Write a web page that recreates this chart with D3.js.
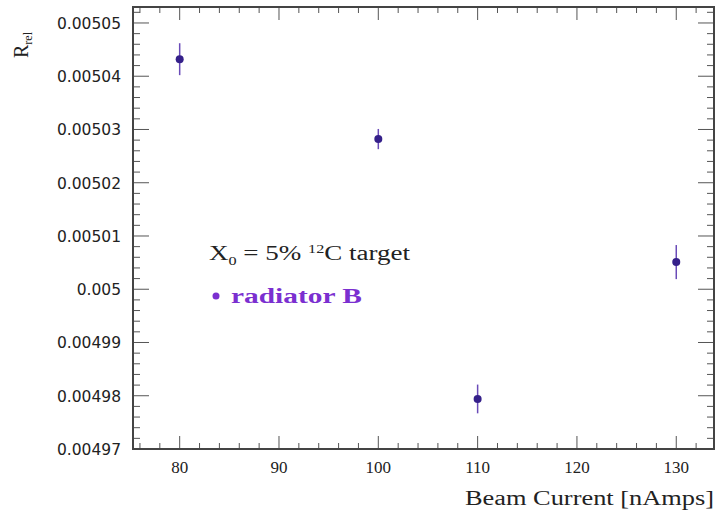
<!DOCTYPE html>
<html>
<head>
<meta charset="utf-8">
<script src="https://cdn.jsdelivr.net/npm/d3@7"></script>
<style>
  body { margin: 0; background: #fff; }
  .frame { fill: none; stroke: #444; stroke-width: 2; }
  .ylab { font-family: "DejaVu Sans", Verdana, sans-serif; font-size: 15.5px; fill: #222; }
  .xlab { font-family: "Liberation Serif", "Times New Roman", serif; font-size: 17px; fill: #222; }
  .title { font-family: "Liberation Serif", "Times New Roman", serif; font-size: 20px; fill: #222; }
</style>
</head>
<body>
<div id="chart"></div>
<script>
// beam current [nAmps]
var currents = [80, 100, 110, 130];
// R_rel values and their errors
var rrel = [0.0050432, 0.0050282, 0.0049794, 0.0050051];
var rrelErr = [0.0000030, 0.0000019, 0.0000027, 0.0000032];

var xTicks = [80, 90, 100, 110, 120, 130];
var yTicks = [0.00497, 0.00498, 0.00499, 0.005, 0.00501, 0.00502, 0.00503, 0.00504, 0.00505];

var W = 717, H = 515;
var margin = { left: 133, right: 3, top: 7, bottom: 66 };

var svg = d3.select("#chart").append("svg")
    .attr("width", W)
    .attr("height", H);

var x = d3.scaleLinear().domain([75.3, 133.8]).range([margin.left, W - margin.right]);
var y = d3.scaleLinear().domain([0.00497, 0.005053]).range([H - margin.bottom, margin.top]);

var x0 = x.range()[0], x1 = x.range()[1], y0 = y.range()[0], y1 = y.range()[1];

// minor tick positions
var xMinor = d3.range(76, 134, 2).filter(function(d){ return d % 10 != 0; });
var yMinor = d3.range(0, 42).map(function(i){ return 0.00497 + i * 0.000002; })
    .filter(function(d){ return d <= 0.005053 && Math.abs(Math.round(d * 1e5) - d * 1e5) > 1e-6; });

function tickLines(g, vals, fn) {
    g.selectAll("line").data(vals).enter().append("line")
        .attr("stroke", "#555").attr("stroke-width", 1)
        .each(fn);
}

var ticks = svg.append("g");
// bottom + top
tickLines(ticks.append("g"), xTicks, function(d){
    d3.select(this).attr("x1", x(d)).attr("x2", x(d)).attr("y1", y0).attr("y2", y0 - 13);
});
tickLines(ticks.append("g"), xMinor, function(d){
    d3.select(this).attr("x1", x(d)).attr("x2", x(d)).attr("y1", y0).attr("y2", y0 - 6);
});
tickLines(ticks.append("g"), xTicks, function(d){
    d3.select(this).attr("x1", x(d)).attr("x2", x(d)).attr("y1", y1).attr("y2", y1 + 13);
});
tickLines(ticks.append("g"), xMinor, function(d){
    d3.select(this).attr("x1", x(d)).attr("x2", x(d)).attr("y1", y1).attr("y2", y1 + 6);
});
// left + right
tickLines(ticks.append("g"), yTicks, function(d){
    d3.select(this).attr("x1", x0).attr("x2", x0 + 16).attr("y1", y(d)).attr("y2", y(d));
});
tickLines(ticks.append("g"), yMinor, function(d){
    d3.select(this).attr("x1", x0).attr("x2", x0 + 7).attr("y1", y(d)).attr("y2", y(d));
});
tickLines(ticks.append("g"), yTicks, function(d){
    d3.select(this).attr("x1", x1).attr("x2", x1 - 16).attr("y1", y(d)).attr("y2", y(d));
});
tickLines(ticks.append("g"), yMinor, function(d){
    d3.select(this).attr("x1", x1).attr("x2", x1 - 7).attr("y1", y(d)).attr("y2", y(d));
});

// frame
svg.append("rect").attr("class", "frame")
    .attr("x", x0).attr("y", y1)
    .attr("width", x1 - x0).attr("height", y0 - y1);

// tick labels
svg.append("g").selectAll("text").data(yTicks).enter().append("text")
    .attr("class", "ylab")
    .attr("x", x0 - 12)
    .attr("y", function(d){ return y(d) + 6; })
    .attr("text-anchor", "end")
    .text(function(d){ return d3.format("")(+d.toPrecision(6)); });

svg.append("g").selectAll("text").data(xTicks).enter().append("text")
    .attr("class", "xlab")
    .attr("x", function(d){ return x(d); })
    .attr("y", y0 + 24)
    .attr("text-anchor", "middle")
    .text(function(d){ return d; });

// axis titles
svg.append("text").attr("class", "title")
    .attr("x", 465).attr("y", 505)
    .attr("textLength", 249).attr("lengthAdjust", "spacingAndGlyphs")
    .text("Beam Current [nAmps]");

var yt = svg.append("text").attr("class", "title")
    .attr("transform", "translate(28,58) rotate(-90)")
    .attr("text-anchor", "start");
yt.append("tspan").text("R");
yt.append("tspan").attr("font-size", "12px").attr("dy", 4).text("rel");

// error bars + points
var pts = svg.append("g");
pts.selectAll("line").data(currents).enter().append("line")
    .attr("x1", function(d){ return x(d); })
    .attr("x2", function(d){ return x(d); })
    .attr("y1", function(d, i){ return y(rrel[i] - rrelErr[i]); })
    .attr("y2", function(d, i){ return y(rrel[i] + rrelErr[i]); })
    .attr("stroke", "#6a4bb8").attr("stroke-width", 1.5);
pts.selectAll("circle").data(currents).enter().append("circle")
    .attr("cx", function(d){ return x(d); })
    .attr("cy", function(d, i){ return y(rrel[i]); })
    .attr("r", 4)
    .attr("fill", "#35208a");

// legend
var lg = svg.append("text").attr("class", "title").attr("x", 209).attr("y", 260)
    .attr("textLength", 201).attr("lengthAdjust", "spacingAndGlyphs");
lg.append("tspan").text("X");
lg.append("tspan").attr("font-size", "12px").attr("dy", 5).text("0");
lg.append("tspan").attr("dy", -5).text(" = 5% ");
lg.append("tspan").attr("font-size", "12px").attr("dy", -7).text("12");
lg.append("tspan").attr("dy", 7).text("C target");

svg.append("circle").attr("cx", 216).attr("cy", 296).attr("r", 3.5).attr("fill", "#7b2fd0");
svg.append("text").attr("class", "title")
    .attr("x", 231).attr("y", 303)
    .attr("textLength", 131).attr("lengthAdjust", "spacingAndGlyphs")
    .style("fill", "#7b2fd0")
    .attr("font-weight", "bold")
    .text("radiator B");
</script>
</body>
</html>
